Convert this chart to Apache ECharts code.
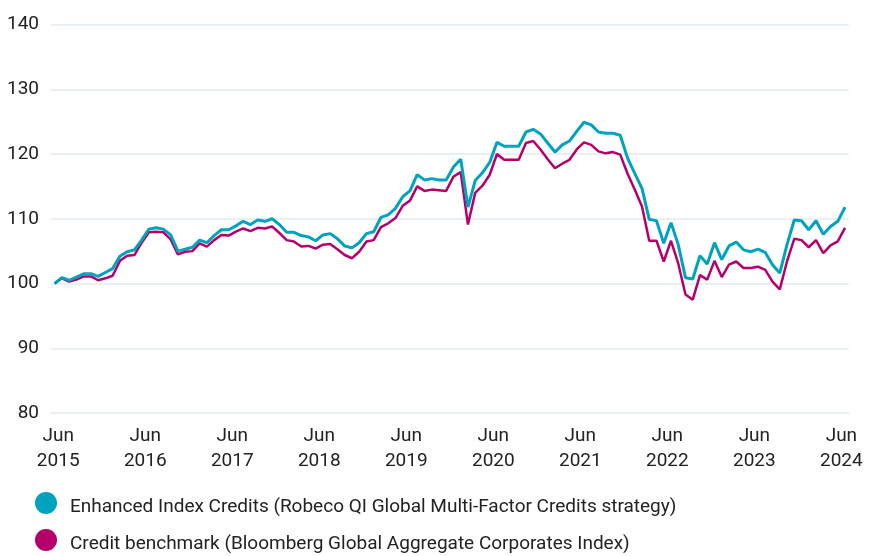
<!DOCTYPE html>
<html>
<head>
<meta charset="utf-8">
<script src="https://cdn.jsdelivr.net/npm/echarts@6/dist/echarts.min.js"></script>
<style>
  html, body { margin: 0; padding: 0; background: #fff; }
  #container { width: 873px; height: 556px; }
</style>
</head>
<body>
<div id="container"></div>
<script>
    // month-end index levels, May 2015 = 100
    var startYear = 2015, startMonth = 5, monthCount = 110;

    var enhanced = [100.0, 100.9, 100.5, 101.0, 101.5, 101.5, 101.1, 101.7, 102.3, 104.2,
        104.9, 105.2, 106.7, 108.4, 108.6, 108.4, 107.5, 105.0, 105.3, 105.6,
        106.7, 106.3, 107.4, 108.3, 108.3, 108.9, 109.6, 109.1, 109.8, 109.6,
        110.0, 109.1, 107.9, 107.9, 107.4, 107.2, 106.6, 107.5, 107.7, 106.9,
        105.8, 105.5, 106.3, 107.7, 108.0, 110.2, 110.6, 111.6, 113.4, 114.3,
        116.8, 116.0, 116.2, 116.0, 116.0, 118.0, 119.2, 111.8, 115.9, 117.1,
        118.7, 121.8, 121.2, 121.2, 121.2, 123.4, 123.8, 123.1, 121.7, 120.3,
        121.4, 122.0, 123.5, 124.9, 124.5, 123.4, 123.2, 123.2, 122.9, 119.4,
        117.0, 114.7, 109.9, 109.7, 106.2, 109.4, 106.0, 100.9, 100.7, 104.3,
        103.0, 106.3, 103.7, 105.8, 106.4, 105.2, 104.9, 105.3, 104.8, 102.9,
        101.6, 106.0, 109.8, 109.7, 108.3, 109.7, 107.6, 108.8, 109.6, 111.8];

    var benchmark = [100.0, 100.8, 100.3, 100.6, 101.1, 101.1, 100.5, 100.8, 101.2, 103.5,
        104.3, 104.4, 106.3, 107.9, 108.0, 107.9, 106.8, 104.5, 104.9, 105.0,
        106.2, 105.7, 106.7, 107.5, 107.4, 108.0, 108.5, 108.1, 108.6, 108.5,
        108.8, 107.8, 106.7, 106.5, 105.7, 105.8, 105.4, 106.0, 106.1, 105.3,
        104.4, 103.9, 104.9, 106.5, 106.7, 108.7, 109.3, 110.1, 112.0, 112.8,
        115.0, 114.3, 114.5, 114.4, 114.3, 116.5, 117.2, 109.1, 114.0, 115.1,
        116.8, 120.0, 119.1, 119.1, 119.1, 121.7, 122.0, 120.7, 119.2, 117.8,
        118.5, 119.1, 120.7, 121.8, 121.4, 120.4, 120.1, 120.3, 119.9, 117.0,
        114.5, 111.9, 106.6, 106.6, 103.4, 106.6, 103.1, 98.3, 97.5, 101.3,
        100.6, 103.5, 101.0, 102.9, 103.4, 102.4, 102.4, 102.6, 102.1, 100.3,
        99.1, 103.4, 106.9, 106.7, 105.6, 106.7, 104.7, 105.9, 106.5, 108.6];

    var seriesNames = ['Enhanced Index Credits (Robeco QI Global Multi-Factor Credits strategy)',
        'Credit benchmark (Bloomberg Global Aggregate Corporates Index)'];
    var colors = ['#00a3bf', '#b5006b'];

    var months = [];
    for (var i = 0; i < monthCount; i++) {
        var m = startMonth - 1 + i;
        var y = startYear + Math.floor(m / 12);
        months.push(y + '-' + ('0' + (m % 12 + 1)).slice(-2));
    }

    var fontStack = "'Roboto', sans-serif";
    var gridColor = '#eaeff4';

    var dom = document.getElementById('container');
    var myChart = echarts.init(dom);

    var option = {
        animation: false,
        textStyle: { fontFamily: fontStack },
        grid: {
            left: 51,
            right: 18,
            top: 24.5,
            bottom: 143,
            containLabel: false
        },
        legend: {
            orient: 'vertical',
            left: 30,
            top: 487,
            height: 120,
            icon: 'circle',
            itemWidth: 22,
            itemHeight: 22,
            itemGap: 12,
            data: seriesNames,
            formatter: function (name) { return '{t|' + name + '}'; },
            textStyle: {
                fontFamily: fontStack,
                fontSize: 19,
                color: '#222',
                padding: [0, 0, 0, 8],
                rich: {
                    t: {
                        fontFamily: fontStack,
                        fontSize: 19,
                        color: '#222',
                        padding: [9, 0, 0, 0]
                    }
                }
            }
        },
        xAxis: {
            type: 'category',
            data: months,
            boundaryGap: true,
            axisLine: { lineStyle: { color: gridColor, width: 2 } },
            axisTick: {
                length: 4,
                lineStyle: { color: gridColor, width: 2 },
                interval: function (idx) { return idx % 3 === 0; }
            },
            axisLabel: {
                interval: function (idx) { return idx % 12 === 1; },
                formatter: function (val) { return 'Jun\n' + val.slice(0, 4); },
                color: '#222',
                fontSize: 19,
                lineHeight: 25,
                margin: 11,
                padding: [0, 7.3, 0, 0]
            },
            splitLine: { show: false }
        },
        yAxis: {
            type: 'value',
            min: 80,
            max: 140,
            interval: 10,
            axisLine: { show: false },
            axisTick: { show: false },
            axisLabel: { color: '#222', fontSize: 19, margin: 12 },
            splitLine: { lineStyle: { color: gridColor, width: 2 } }
        },
        series: [
            {
                name: seriesNames[1],
                type: 'line',
                data: benchmark,
                symbol: 'none',
                lineStyle: { color: colors[1], width: 2.5 },
                itemStyle: { color: colors[1] }
            },
            {
                name: seriesNames[0],
                type: 'line',
                data: enhanced,
                symbol: 'none',
                lineStyle: { color: colors[0], width: 3 },
                itemStyle: { color: colors[0] }
            }
        ]
    };

    myChart.setOption(option);
</script>
</body>
</html>
